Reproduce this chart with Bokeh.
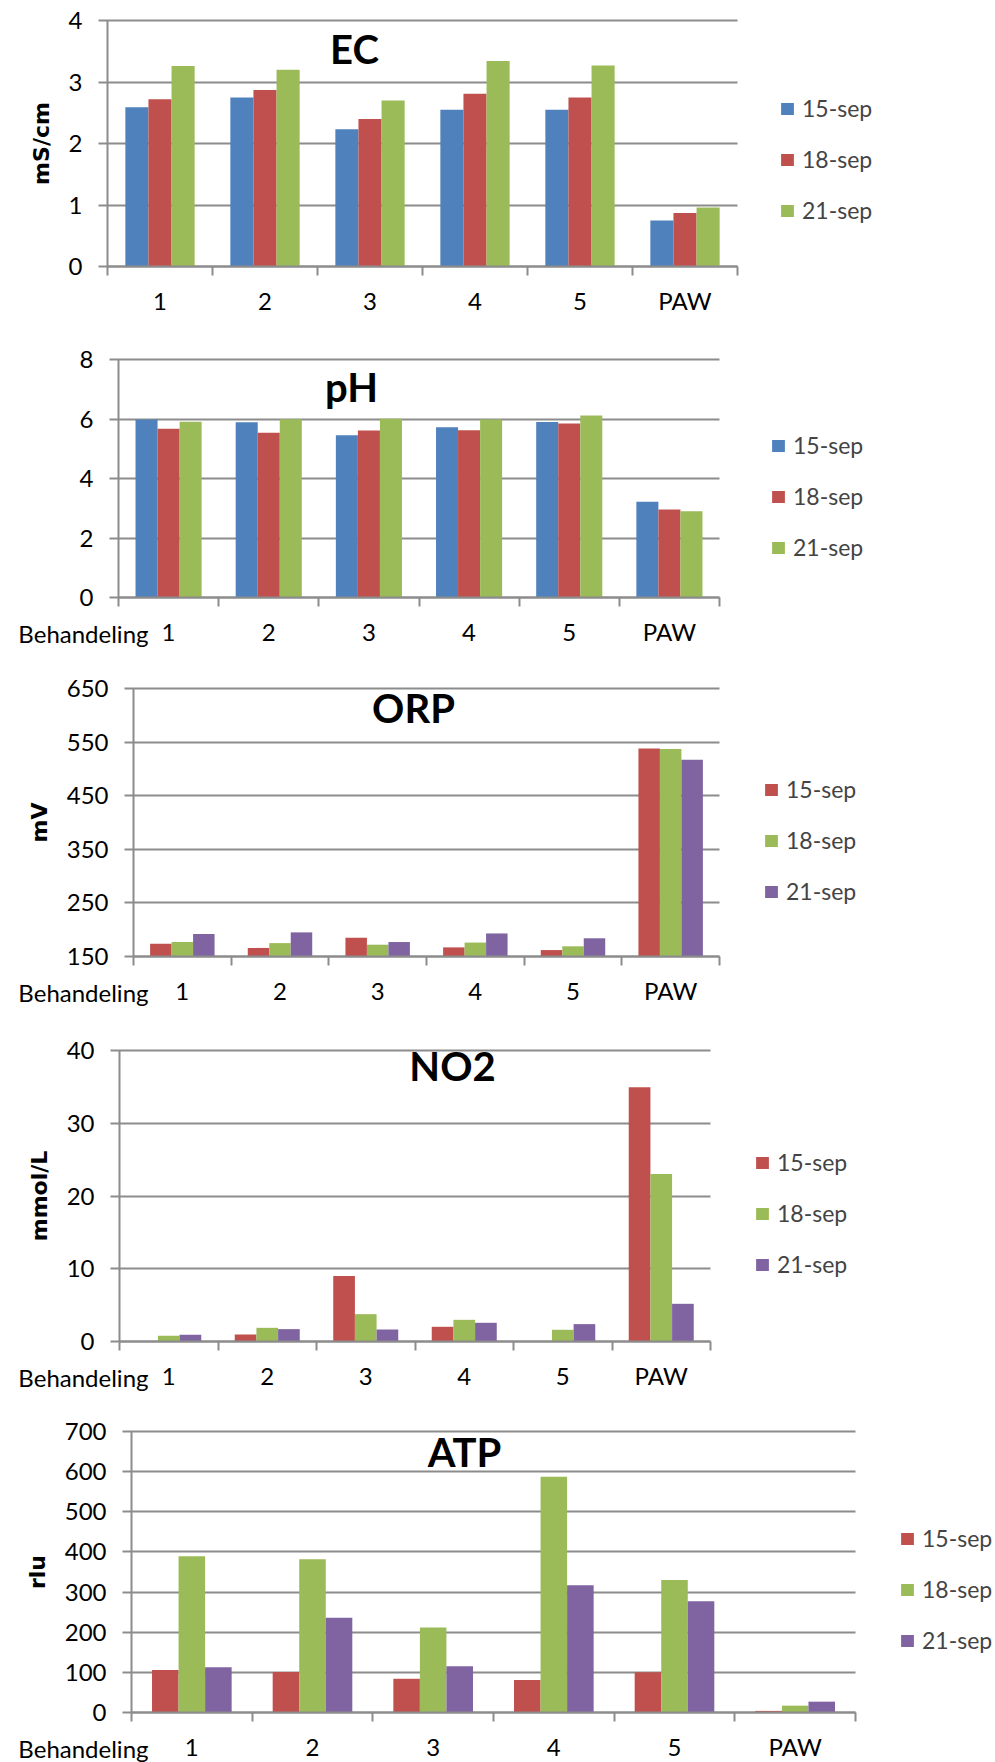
from bokeh.plotting import figure
from bokeh.layouts import column
from bokeh.models import FixedTicker, Legend, LegendItem, Label, Range1d, ColumnDataSource
from bokeh.embed import file_html
from bokeh.resources import INLINE

# ---- data -------------------------------------------------------------
groups = ["1", "2", "3", "4", "5", "PAW"]
dates = ["15-sep", "18-sep", "21-sep"]

ec_15 = [2.59, 2.75, 2.23, 2.55, 2.55, 0.75]
ec_18 = [2.72, 2.87, 2.40, 2.81, 2.75, 0.87]
ec_21 = [3.26, 3.20, 2.70, 3.34, 3.27, 0.96]

ph_15 = [5.98, 5.89, 5.45, 5.72, 5.90, 3.22]
ph_18 = [5.67, 5.54, 5.61, 5.62, 5.85, 2.96]
ph_21 = [5.91, 5.99, 6.01, 5.98, 6.12, 2.90]

orp_15 = [174, 166, 185, 167, 162, 538]
orp_18 = [177, 175, 172, 176, 169, 537]
orp_21 = [192, 195, 177, 193, 184, 517]

no2_15 = [0, 0.96, 8.99, 2.02, 0, 34.95]
no2_18 = [0.78, 1.88, 3.76, 2.98, 1.61, 23.03]
no2_21 = [0.92, 1.70, 1.65, 2.57, 2.39, 5.18]

atp_15 = [106, 101, 84, 81, 100, 4]
atp_18 = [389, 382, 212, 587, 330, 17]
atp_21 = [113, 236, 115, 317, 277, 27]

# ---- style --------------------------------------------------------------
BLUE, RED, GREEN, PURPLE = "#4F81BD", "#C0504D", "#9BBB59", "#8064A2"
GRID = "#8c8c8c"
TICK_FONT = "Lato"
PAGE_W = 995
BAR_W = 0.22


def make_panel(name, unit, series, colors, y0, y1, step,
               slice_top, slice_bottom, f_left, f_right, f_top, f_bottom,
               title_px, legend_px, behandeling):
    """One chart strip. The plot frame covers the whole strip; the axes are
    pinned at the data origin so that labels, legend and title all sit
    inside the drawable area."""
    h = slice_bottom - slice_top
    ft, fb = f_top - slice_top, f_bottom - slice_top          # frame edges within strip
    xs = 6.0 / (f_right - f_left)                             # data units per pixel
    ys = (y1 - y0) / (fb - ft)

    p = figure(width=PAGE_W, height=h, output_backend="svg", toolbar_location=None,
               x_range=Range1d(-f_left * xs, 6 + (PAGE_W - f_right) * xs),
               y_range=Range1d(y0 - (h - fb) * ys, y1 + ft * ys),
               min_border=0)
    p.outline_line_color = None
    p.background_fill_color = "white"
    p.grid.grid_line_color = None

    def to_x(px):
        return (px - f_left) * xs

    def to_y(py):
        return y0 + (fb - (py - slice_top)) * ys

    centers = [i + 0.5 for i in range(len(groups))]
    bounds = list(range(len(groups) + 1))

    # category axis: labels at the centres, tick marks at the boundaries
    xa = p.xaxis[0]
    xa.fixed_location = y0
    xa.bounds = (0, 6)
    xa.ticker = FixedTicker(ticks=centers, minor_ticks=bounds)
    xa.major_label_overrides = {c: g for c, g in zip(centers, groups)}
    xa.axis_line_color = GRID
    xa.axis_line_width = 2
    xa.major_tick_line_color = None
    xa.major_tick_out = 0
    xa.major_tick_in = 0
    xa.minor_tick_line_color = GRID
    xa.minor_tick_line_width = 2
    xa.minor_tick_out = 9
    xa.minor_tick_in = 0
    xa.major_label_standoff = 10
    xa.major_label_text_font = TICK_FONT
    xa.major_label_text_font_size = "24px"
    xa.major_label_text_color = "black"

    # value axis: the inward ticks run across the frame as gridlines
    ya = p.yaxis[0]
    ya.fixed_location = 0
    ya.bounds = (y0, y1)
    ya.level = "underlay"
    ya.ticker = FixedTicker(ticks=list(range(y0, y1 + 1, step)))
    ya.axis_line_color = GRID
    ya.axis_line_width = 2
    ya.major_tick_line_color = GRID
    ya.major_tick_line_width = 2
    ya.major_tick_out = 9
    ya.major_tick_in = f_right - f_left
    ya.minor_tick_line_color = None
    ya.major_label_standoff = 16
    ya.major_label_text_font = TICK_FONT
    ya.major_label_text_font_size = "24px"
    ya.major_label_text_color = "black"
    if unit:
        ya.axis_label = unit
        ya.axis_label_text_font = "DejaVu Sans"
        ya.axis_label_text_font_style = "bold"
        ya.axis_label_text_font_size = "22px"
        ya.axis_label_text_color = "black"
        ya.axis_label_standoff = 12

    items = []
    for k, (vals, col, lab) in enumerate(zip(series, colors, dates)):
        src = ColumnDataSource(dict(x=[c + (k - 1) * BAR_W for c in centers], top=vals))
        r = p.vbar(x="x", top="top", bottom=y0, width=BAR_W, source=src,
                   fill_color=col, line_color=None)
        items.append(LegendItem(label=lab, renderers=[r]))

    p.add_layout(Label(x=to_x(title_px[0]), y=to_y(title_px[1]), text=name,
                       text_font="Lato", text_font_style="bold", text_font_size="40px",
                       text_align="center", text_baseline="middle", text_color="black"))

    if behandeling:
        p.add_layout(Label(x=to_x(148), y=to_y(f_bottom + 36), text="Behandeling",
                           text_font=TICK_FONT, text_font_size="24px",
                           text_align="right", text_baseline="middle", text_color="black"))

    legend = Legend(items=items,
                    location=(legend_px[0], slice_bottom - legend_px[1]),
                    orientation="vertical", glyph_width=16, glyph_height=15,
                    label_standoff=7, label_text_font=TICK_FONT,
                    label_text_font_size="23px", label_height=22, spacing=23,
                    padding=0, margin=0, border_line_color=None,
                    background_fill_alpha=0)
    p.add_layout(legend)
    return p


p1 = make_panel("EC", "mS/cm", [ec_15, ec_18, ec_21], [BLUE, RED, GREEN], 0, 4, 1,
                0, 330, 107, 737, 20, 266, (354, 48), (779, 224), False)
p2 = make_panel("pH", None, [ph_15, ph_18, ph_21], [BLUE, RED, GREEN], 0, 8, 2,
                330, 670, 118, 719, 359, 597, (351, 386), (770, 561), True)
p3 = make_panel("ORP", "mV", [orp_15, orp_18, orp_21], [RED, GREEN, PURPLE], 150, 650, 100,
                670, 1030, 133, 719, 688, 956, (413, 707), (763, 905), True)
p4 = make_panel("NO2", "mmol/L", [no2_15, no2_18, no2_21], [RED, GREEN, PURPLE], 0, 40, 10,
                1030, 1392, 119, 710, 1050, 1341, (452, 1065), (754, 1278), True)
p5 = make_panel("ATP", "rlu", [atp_15, atp_18, atp_21], [RED, GREEN, PURPLE], 0, 700, 100,
                1392, 1762, 131, 855, 1431, 1712, (464, 1451), (899, 1654), True)

layout = column(p1, p2, p3, p4, p5, spacing=0)
open("out.html", "w").write(file_html(layout, INLINE))
